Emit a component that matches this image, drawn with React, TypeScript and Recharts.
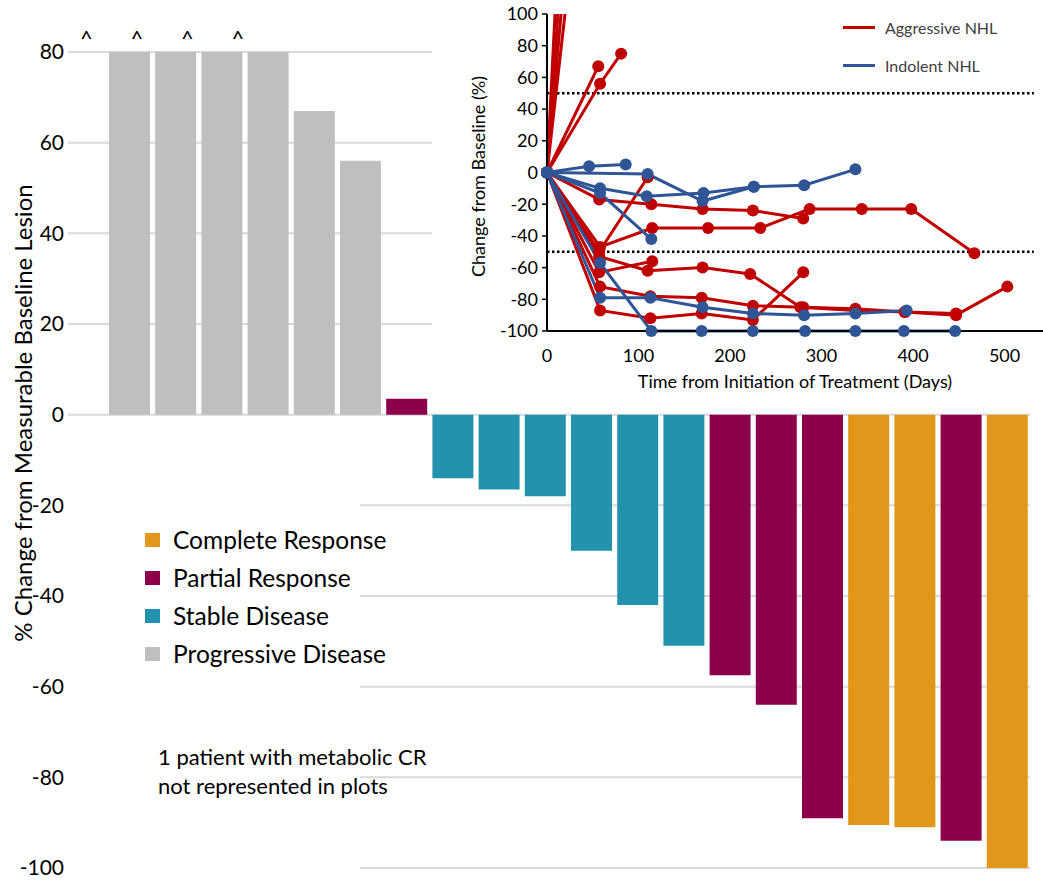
import React from 'react';
import {
  BarChart,
  Bar,
  Cell,
  LabelList,
  LineChart,
  Line,
  XAxis,
  YAxis,
  CartesianGrid,
  ReferenceLine,
  Legend,
} from 'recharts';

// waterfall: best % change per patient, sorted
const patientIds = [
  'P01', 'P02', 'P03', 'P04', 'P05', 'P06', 'P07', 'P08', 'P09', 'P10',
  'P11', 'P12', 'P13', 'P14', 'P15', 'P16', 'P17', 'P18', 'P19', 'P20',
];
const bestChange = [80, 80, 80, 80, 67, 56, 3.5, -14, -16.5, -18, -30, -42, -51, -57.5, -64, -89, -90.5, -91, -94, -100];
const bestResponse = ['PD', 'PD', 'PD', 'PD', 'PD', 'PD', 'PR', 'SD', 'SD', 'SD', 'SD', 'SD', 'SD', 'PR', 'PR', 'PR', 'CR', 'CR', 'PR', 'CR'];
const beyondAxis = [true, true, true, true, false, false, false, false, false, false, false, false, false, false, false, false, false, false, false, false];
const waterfallTicks = [-100, -80, -60, -40, -20, 0, 20, 40, 60, 80];

const responseKeys = ['CR', 'PR', 'SD', 'PD'];
const responseLabels = ['Complete Response', 'Partial Response', 'Stable Disease', 'Progressive Disease'];
const responseColors: Record<string, string> = {
  CR: '#E2971B',
  PR: '#8C004B',
  SD: '#2393AD',
  PD: '#BFBFBF',
};

// spider plot: days from start of treatment and % change, one list per patient
const offScaleDays = [[0, 56], [0, 56], [0, 56], [0, 56]];
const offScaleChange = [[0, 640], [0, 470], [0, 365], [0, 285]];

const aggressiveDays = [
  [0, 56],
  [0, 58, 81],
  [0, 57, 114, 170, 225, 280],
  [0, 58, 115, 176, 233, 287, 344, 398, 467],
  [0, 57, 110],
  [0, 57, 110, 170, 222, 277, 337, 391, 447, 503],
  [0, 57, 115],
  [0, 58, 113, 169, 225, 280, 337, 391, 447],
  [0, 58, 113, 169, 225, 280],
];
const aggressiveChange = [
  [0, 67],
  [0, 56, 75],
  [0, -17, -20, -23, -24, -29],
  [0, -47, -35, -35, -35, -23, -23, -23, -51],
  [0, -50, -3],
  [0, -53, -62, -60, -64, -85, -87, -88, -90, -72],
  [0, -63, -56],
  [0, -72, -78, -79, -84, -85, -86, -88, -89],
  [0, -87, -92, -89, -93, -63],
];

const indolentDays = [
  [0, 46, 86],
  [0, 110, 170, 226, 281, 337],
  [0, 58, 109, 171, 226],
  [0, 58, 114],
  [0, 58, 114, 169, 225, 282, 337, 390, 446],
  [0, 58, 113, 170, 225, 281, 337, 393],
];
const indolentChange = [
  [0, 4, 5],
  [0, -1, -18, -9, -8, 2],
  [0, -10, -15, -13, -9],
  [0, -13, -42],
  [0, -57, -100, -100, -100, -100, -100, -100, -100],
  [0, -79, -79, -85, -89, -90, -89, -87],
];

const spiderXTicks = [0, 100, 200, 300, 400, 500];
const spiderYTicks = [-100, -80, -60, -40, -20, 0, 20, 40, 60, 80, 100];
const responseThresholds = [50, -50];

const groupLabels = ['Aggressive NHL', 'Indolent NHL'];
const RED = '#C00000';
const BLUE = '#2F5597';
const groupColors = [RED, BLUE];

const waterfall = patientIds.map((id, i) => ({
  id,
  change: bestChange[i],
  response: bestResponse[i],
  capped: beyondAxis[i],
}));

const toSeries = (days: number[][], change: number[][]) =>
  days.map((d, i) => d.map((day, j) => ({ day, change: change[i][j] })));

const offScaleSeries = toSeries(offScaleDays, offScaleChange);
const aggressiveSeries = toSeries(aggressiveDays, aggressiveChange);
const indolentSeries = toSeries(indolentDays, indolentChange);

const FONT = 'Lato, "Open Sans", sans-serif';

const CaretLabel = (props: any) => {
  const { x, y, width, value, index } = props;
  if (!value) return null;
  // carets sit a little left of the bars in the original figure
  const dx = -43 + index * 4.3;
  return (
    <text x={x + width / 2 + dx} y={y - 6} textAnchor="middle" fontSize={22} fontFamily={FONT} fill="#000">
      ^
    </text>
  );
};

const ResponseLegend = () => (
  <div style={{ position: 'relative', width: '100%', height: '100%', fontFamily: FONT, color: '#000', whiteSpace: 'nowrap' }}>
    <div style={{ position: 'absolute', left: 77, top: 91 }}>
      {responseKeys.map((k, i) => (
        <div key={k} style={{ display: 'flex', alignItems: 'center', height: 38 }}>
          <span style={{ width: 15, height: 14, background: responseColors[k], display: 'inline-block', flex: 'none' }} />
          <span style={{ marginLeft: 13, fontSize: 24.5, lineHeight: '38px' }}>{responseLabels[i]}</span>
        </div>
      ))}
    </div>
    <div style={{ position: 'absolute', left: 90, top: 312, fontSize: 22, lineHeight: '29px' }}>
      1 patient with metabolic CR
      <br />
      not represented in plots
    </div>
  </div>
);

const GroupLegend = () => (
  <div style={{ fontFamily: FONT, color: '#404040', fontSize: 16, whiteSpace: 'nowrap' }}>
    {groupLabels.map((label, i) => (
      <div key={label} style={{ display: 'flex', alignItems: 'center', height: 26, marginBottom: 12 }}>
        <span style={{ width: 32, height: 3, background: groupColors[i], display: 'inline-block' }} />
        <span style={{ marginLeft: 10 }}>{label}</span>
      </div>
    ))}
  </div>
);

const dotStyle = (color: string) => ({ r: 6, fill: color, stroke: color, strokeWidth: 0, clipDot: false });

const App = () => {
  return (
    <div style={{ position: 'absolute', left: 0, top: 0, width: 1043, height: 880, background: '#fff' }}>
      <BarChart
        width={1043}
        height={880}
        data={waterfall}
        margin={{ top: 52, right: 13, bottom: 12, left: 0 }}
        barSize={41}
      >
        <CartesianGrid vertical={false} stroke="#D9D9D9" strokeWidth={2} />
        <XAxis dataKey="id" hide padding={{ left: 38, right: 0 }} />
        <YAxis
          domain={[-100, 80]}
          ticks={waterfallTicks}
          interval={0}
          width={68}
          axisLine={false}
          tickLine={false}
          tickSize={0}
          tickMargin={4}
          tick={{ fontSize: 21, fill: '#000', fontFamily: FONT }}
          label={({ viewBox }: any) => {
            const cx = viewBox.x + 22;
            const cy = viewBox.y + viewBox.height / 2 - 47;
            return (
              <text
                x={cx}
                y={cy}
                transform={`rotate(-90, ${cx}, ${cy})`}
                textAnchor="middle"
                dominantBaseline="central"
                fontSize={24}
                fontFamily={FONT}
                fill="#000"
              >
                % Change from Measurable Baseline Lesion
              </text>
            );
          }}
        />
        <Legend
          layout="horizontal"
          verticalAlign="middle"
          align="center"
          content={() => <ResponseLegend />}
          wrapperStyle={{ position: 'absolute', left: 68, top: 430, width: 292, height: 445, background: '#fff' }}
        />
        <Bar dataKey="change" isAnimationActive={false}>
          {waterfall.map((d) => (
            <Cell key={d.id} fill={responseColors[d.response]} />
          ))}
          <LabelList dataKey="capped" content={CaretLabel} />
        </Bar>
      </BarChart>

      <div style={{ position: 'absolute', left: 432, top: 0, width: 611, height: 400, background: '#fff' }}>
        <LineChart width={611} height={400} margin={{ top: 14, right: 0, bottom: 0, left: 0 }}>
          <XAxis
            type="number"
            dataKey="day"
            domain={[0, 542]}
            ticks={spiderXTicks}
            interval={0}
            height={69}
            axisLine={{ stroke: '#000', strokeWidth: 2 }}
            tickLine={false}
            tickSize={0}
            tickMargin={18}
            tick={{ fontSize: 18, fill: '#000', fontFamily: FONT }}
            label={({ viewBox }: any) => (
              <text
                x={viewBox.x + viewBox.width / 2}
                y={viewBox.y + 50}
                textAnchor="middle"
                dominantBaseline="central"
                fontSize={18}
                fontFamily={FONT}
                fill="#000"
              >
                Time from Initiation of Treatment (Days)
              </text>
            )}
          />
          <YAxis
            yAxisId="main"
            domain={[-100, 100]}
            ticks={spiderYTicks}
            interval={0}
            width={115}
            axisLine={{ stroke: '#000', strokeWidth: 2 }}
            tickLine={{ stroke: '#000', strokeWidth: 1.5 }}
            tickSize={5}
            tickMargin={4}
            tick={{ fontSize: 18, fill: '#000', fontFamily: FONT }}
            label={({ viewBox }: any) => {
              const cx = viewBox.x + 46;
              const cy = viewBox.y + viewBox.height / 2 + 4;
              return (
                <text
                  x={cx}
                  y={cy}
                  transform={`rotate(-90, ${cx}, ${cy})`}
                  textAnchor="middle"
                  dominantBaseline="central"
                  fontSize={18}
                  fontFamily={FONT}
                  fill="#000"
                >
                  Change from Baseline (%)
                </text>
              );
            }}
          />
          <YAxis yAxisId="overflow" hide domain={[-100, 100]} allowDataOverflow />
          {responseThresholds.map((t) => (
            <ReferenceLine
              key={t}
              yAxisId="main"
              segment={[{ x: 0, y: t }, { x: 532, y: t }]}
              stroke="#000"
              strokeWidth={2.5}
              strokeDasharray="2.5 2.5"
            />
          ))}
          <Legend
            layout="horizontal"
            verticalAlign="middle"
            align="center"
            content={() => <GroupLegend />}
            wrapperStyle={{ position: 'absolute', left: 411, top: 14, width: 190, height: 80 }}
          />
          {offScaleSeries.map((pts, i) => (
            <Line
              key={`off-${i}`}
              yAxisId="overflow"
              data={pts}
              dataKey="change"
              type="linear"
              stroke={RED}
              strokeWidth={3}
              dot={dotStyle(RED)}
              activeDot={false}
              isAnimationActive={false}
            />
          ))}
          {aggressiveSeries.map((pts, i) => (
            <Line
              key={`agg-${i}`}
              yAxisId="main"
              data={pts}
              dataKey="change"
              type="linear"
              stroke={RED}
              strokeWidth={3}
              dot={dotStyle(RED)}
              activeDot={false}
              isAnimationActive={false}
            />
          ))}
          {indolentSeries.map((pts, i) => (
            <Line
              key={`ind-${i}`}
              yAxisId="main"
              data={pts}
              dataKey="change"
              type="linear"
              stroke={BLUE}
              strokeWidth={3}
              dot={dotStyle(BLUE)}
              activeDot={false}
              isAnimationActive={false}
            />
          ))}
        </LineChart>
      </div>
    </div>
  );
};

export default App;
